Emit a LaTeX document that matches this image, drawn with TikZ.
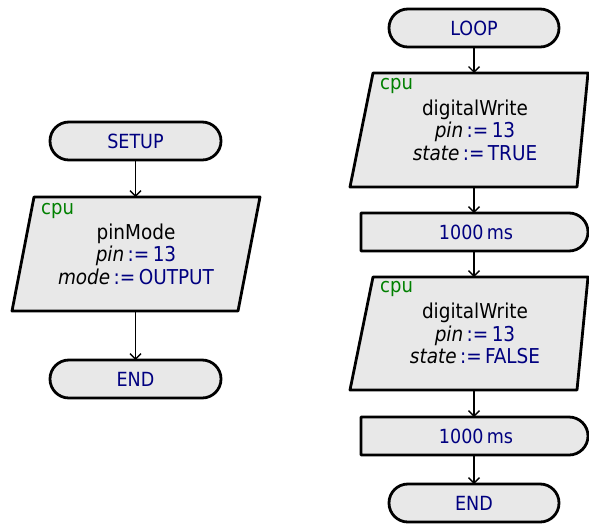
\documentclass[tikz,border=0pt]{standalone}
\usepackage{fontspec}
\setmainfont{DejaVu Sans Condensed}
\usetikzlibrary{arrows.meta}
\definecolor{navy}{RGB}{0,0,128}
\definecolor{cpugreen}{RGB}{0,128,0}
\definecolor{boxfill}{RGB}{232,232,232}
\tikzset{
  shapeline/.style={draw=black, line width=2.8pt, fill=boxfill, line join=round},
  flowarrow/.style={line width=1.4pt, -{Straight Barb[length=5.5pt,width=11pt,line width=1.4pt]}},
  lbl/.style={inner sep=0pt, text=navy, font=\fontsize{19.5}{22}\selectfont},
  body/.style={inner sep=0pt, align=center, font=\fontsize{20.5}{22.5}\selectfont},
  cpulbl/.style={inner sep=0pt, anchor=west, text=cpugreen, font=\fontsize{20}{22}\selectfont},
}
\newcommand{\asg}[2]{\textit{#1}\,{\color{navy}:=\,#2}}
\begin{document}
\begin{tikzpicture}[x=1pt,y=1pt]
\useasboundingbox (0,0) rectangle (589,-523);

% ---------- left column ----------
\draw[shapeline, rounded corners=18.9pt] (50,-122) rectangle (221,-160);
\node[lbl] (setup) at (135.5,-141) {SETUP};
\coordinate (setupB) at (135.5,-160);

\draw[shapeline] (34,-197) -- (260,-197) -- (238,-311) -- (12,-311) -- cycle;
\coordinate (p1T) at (135.5,-197);
\coordinate (p1B) at (135.5,-311);
\node[cpulbl] (cpu1) at (41,-211) {cpu};
\node[body] (pm) at (136,-254) {pinMode\\ \asg{pin}{13}\\ \asg{mode}{OUTPUT}};

\draw[shapeline, rounded corners=18.9pt] (50,-360) rectangle (221,-398);
\node[lbl] (end1) at (135.5,-379) {END};
\coordinate (end1T) at (135.5,-360);

\draw[flowarrow] (setupB) -- (p1T);
\draw[flowarrow] (p1B) -- (end1T);

% ---------- right column ----------
\draw[shapeline, rounded corners=18.9pt] (389,-9) rectangle (559,-47);
\node[lbl] (loop) at (474,-28) {LOOP};
\coordinate (loopB) at (474,-47);

\draw[shapeline] (373,-73) -- (588,-73) -- (577,-187) -- (350,-187) -- cycle;
\coordinate (p2T) at (474,-73);
\coordinate (p2B) at (474,-187);
\node[cpulbl] (cpu2) at (380,-86) {cpu};
\node[body] (dw1) at (475,-130) {digitalWrite\\ \asg{pin}{13}\\ \asg{state}{TRUE}};

\draw[shapeline] (361,-213) -- (569,-213) arc[start angle=90,end angle=-90,radius=19] -- (361,-251) -- cycle;
\node[lbl] (d1) at (476,-232) {1000\,ms};
\coordinate (d1T) at (474,-213);
\coordinate (d1B) at (474,-251);

\draw[shapeline] (373,-277) -- (588,-277) -- (577,-390) -- (350,-390) -- cycle;
\coordinate (p3T) at (474,-277);
\coordinate (p3B) at (474,-390);
\node[cpulbl] (cpu3) at (380,-289) {cpu};
\node[body] (dw2) at (475,-333.5) {digitalWrite\\ \asg{pin}{13}\\ \asg{state}{FALSE}};

\draw[shapeline] (361,-417) -- (569,-417) arc[start angle=90,end angle=-90,radius=19] -- (361,-455) -- cycle;
\node[lbl] (d2) at (476,-436) {1000\,ms};
\coordinate (d2T) at (474,-417);
\coordinate (d2B) at (474,-455);

\draw[shapeline, rounded corners=18.9pt] (389,-484) rectangle (559,-522);
\node[lbl] (end2) at (474,-503) {END};
\coordinate (end2T) at (474,-484);

\draw[flowarrow] (loopB) -- (p2T);
\draw[flowarrow] (p2B) -- (d1T);
\draw[flowarrow] (d1B) -- (p3T);
\draw[flowarrow] (p3B) -- (d2T);
\draw[flowarrow] (d2B) -- (end2T);
\end{tikzpicture}
\end{document}
